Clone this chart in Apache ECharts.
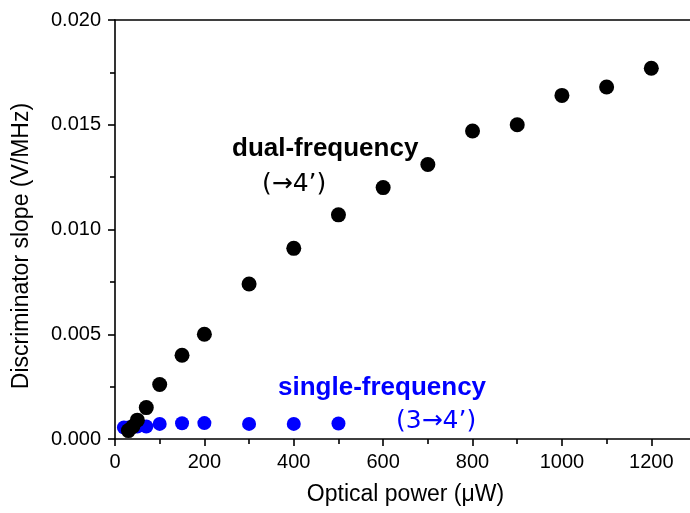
<!DOCTYPE html>
<html>
<head>
<meta charset="utf-8">
<script src="https://cdn.jsdelivr.net/npm/echarts@6/dist/echarts.min.js"></script>
<style>html,body{margin:0;padding:0;background:#fff;overflow:hidden}#c{width:699px;height:513px}</style>
</head>
<body>
<div id="c"></div>
<script>
// Dual-frequency (→4') data
var dualX = [30, 40, 50, 70, 100, 150, 200, 300, 400, 500, 600, 700, 800, 900, 1000, 1100, 1200];
var dualY = [0.0004, 0.0006, 0.0009, 0.0015, 0.0026, 0.0040, 0.0050, 0.0074, 0.0091, 0.0107, 0.0120, 0.0131, 0.0147, 0.0150, 0.0164, 0.0168, 0.0177];
// Single-frequency (3→4') data
var singleX = [20, 30, 40, 50, 70, 100, 150, 200, 300, 400, 500];
var singleY = [0.00055, 0.00055, 0.00058, 0.00060, 0.00060, 0.00072, 0.00075, 0.00076, 0.00072, 0.00072, 0.00074];

var xTicks = [0, 200, 400, 600, 800, 1000, 1200];
var yTicks = [0.000, 0.005, 0.010, 0.015, 0.020];

function pairs(xs, ys){ return xs.map(function(x,i){ return [x, ys[i]]; }); }

var FONT = '"Liberation Sans", Arial, sans-serif';
var chart = echarts.init(document.getElementById('c'), null, {renderer:'canvas'});
chart.setOption({
  animation: false,
  backgroundColor: '#fff',
  grid: { left: 115, top: 20, right: 0, bottom: 74, containLabel: false },
  xAxis: [{
    type: 'value', min: 0, max: 1300, interval: 200, position: 'bottom',
    name: 'Optical power (\u03bcW)', nameLocation: 'middle', nameGap: 44,
    nameTextStyle: { fontFamily: FONT, fontSize: 23, color: '#000' },
    axisLine: { show: true, onZero: false, lineStyle: { color: '#000', width: 1.6 } },
    axisTick: { show: true, inside: false, length: 7, lineStyle: { color: '#000', width: 1.6 } },
    minorTick: { show: true, splitNumber: 2, length: 5, lineStyle: { color: '#000', width: 1.6 } },
    splitLine: { show: false },
    axisLabel: { fontFamily: FONT, fontSize: 20, color: '#000', margin: 13,
      formatter: function(v){ return xTicks.indexOf(v) >= 0 ? String(v) : ''; } }
  }, {
    type: 'value', min: 0, max: 1300, position: 'top',
    axisLine: { show: true, onZero: false, lineStyle: { color: '#000', width: 1.6 } },
    axisTick: { show: false }, axisLabel: { show: false }, splitLine: { show: false }
  }],
  yAxis: {
    type: 'value', min: 0, max: 0.02, interval: 0.005,
    axisLine: { show: true, onZero: false, lineStyle: { color: '#000', width: 1.6 } },
    axisTick: { show: true, inside: false, length: 7, lineStyle: { color: '#000', width: 1.6 } },
    minorTick: { show: true, splitNumber: 2, length: 5, lineStyle: { color: '#000', width: 1.6 } },
    splitLine: { show: false },
    axisLabel: { fontFamily: FONT, fontSize: 20, color: '#000', margin: 14,
      formatter: function(v){ return v.toFixed(3); } }
  },
  series: [{
    name: 'single', type: 'scatter', symbol: 'circle', symbolSize: 14,
    itemStyle: { color: '#0000ff', opacity: 1 },
    data: pairs(singleX, singleY), z: 2
  }, {
    name: 'dual', type: 'scatter', symbol: 'circle', symbolSize: 15,
    itemStyle: { color: '#000', opacity: 1 },
    data: pairs(dualX, dualY), z: 3
  }],
  graphic: [
    { type: 'text', x: 22, y: 246, rotation: Math.PI / 2,
      style: { text: 'Discriminator slope (V/MHz)', fill: '#000', font: '23px ' + FONT, textAlign: 'center', textVerticalAlign: 'middle' } },
    { type: 'text', left: 232, top: 136, style: { text: 'dual-frequency', fill: '#000', font: 'bold 26px ' + FONT } },
    { type: 'text', left: 262, top: 172, style: { text: '(\u2192' + '4\u2019)', fill: '#000', font: '25px "DejaVu Sans", sans-serif' } },
    { type: 'text', left: 278, top: 375, style: { text: 'single-frequency', fill: '#0000ff', font: 'bold 26px ' + FONT } },
    { type: 'text', left: 396, top: 409, style: { text: '(3\u2192' + '4\u2019)', fill: '#0000ff', font: '25px "DejaVu Sans", sans-serif' } }
  ]
});
</script>
</body>
</html>
